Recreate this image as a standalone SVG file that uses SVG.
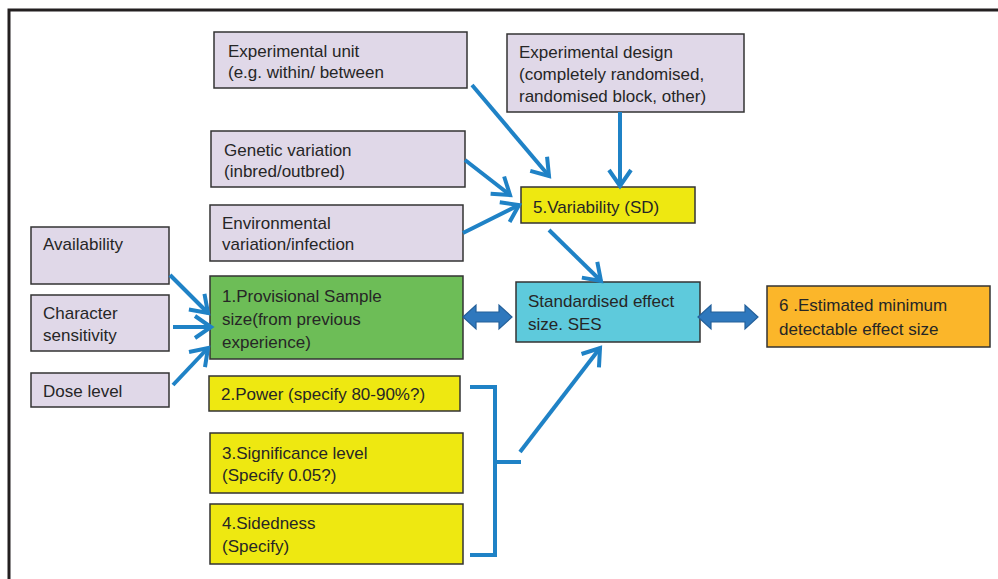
<svg xmlns="http://www.w3.org/2000/svg" width="998" height="579" viewBox="0 0 998 579">
<style>
.box{stroke:#333;stroke-width:1.5}
.lav{fill:#e0d8e8}
.grn{fill:#6dbd57}
.yel{fill:#eee811}
.cyn{fill:#5ecadc}
.org{fill:#fbb62a}
text{font-family:"Liberation Sans",Arial,sans-serif;font-size:17px;fill:#262626}
.con{stroke:#1f82c6;stroke-width:4;fill:none}
.dbl{fill:#2f78bd;stroke:#24609a;stroke-width:1.2}
</style>
<defs>
<marker id="ah" markerUnits="userSpaceOnUse" markerWidth="26" markerHeight="26" viewBox="0 0 26 26" refX="20" refY="13" orient="auto">
<path d="M4,2 L20,13 L4,24" fill="none" stroke="#1f82c6" stroke-width="4" stroke-linejoin="miter"/>
</marker>
</defs>
<rect width="998" height="579" fill="#fff"/>
<path d="M9,579 V10 H998" fill="none" stroke="#231f20" stroke-width="3"/>

<g id="exp-unit"><rect class="box lav" x="214" y="32" width="253" height="56"/><text x="228" y="57">Experimental unit</text><text x="228" y="78">(e.g. within/ between</text></g>
<g id="genetic"><rect class="box lav" x="211" y="131" width="254" height="56"/><text x="224" y="156">Genetic variation</text><text x="224" y="177">(inbred/outbred)</text></g>
<g id="exp-design"><rect class="box lav" x="507" y="34" width="237" height="78"/><text x="519" y="58">Experimental design</text><text x="519" y="80">(completely randomised,</text><text x="519" y="102">randomised block, other)</text></g>
<g id="environmental"><rect class="box lav" x="210" y="205" width="253" height="56"/><text x="222" y="229">Environmental</text><text x="222" y="250">variation/infection</text></g>
<g id="availability"><rect class="box lav" x="31" y="227" width="138" height="57"/><text x="43" y="250">Availability</text></g>
<g id="character"><rect class="box lav" x="31" y="295" width="138" height="56"/><text x="43" y="319">Character</text><text x="43" y="341">sensitivity</text></g>
<g id="dose"><rect class="box lav" x="31" y="373" width="138" height="34"/><text x="43" y="397">Dose level</text></g>
<g id="provisional"><rect class="box grn" x="210" y="276" width="253" height="83"/><text x="222" y="302">1.Provisional Sample</text><text x="222" y="325">size(from previous</text><text x="222" y="348">experience)</text></g>
<g id="power"><rect class="box yel" x="209" y="376" width="251" height="35"/><text x="221" y="400">2.Power (specify 80-90%?)</text></g>
<g id="significance"><rect class="box yel" x="210" y="433" width="253" height="60"/><text x="222" y="459">3.Significance level</text><text x="222" y="481">(Specify 0.05?)</text></g>
<g id="sidedness"><rect class="box yel" x="210" y="504" width="253" height="60"/><text x="222" y="529">4.Sidedness</text><text x="222" y="552">(Specify)</text></g>
<g id="variability"><rect class="box yel" x="521" y="187" width="174" height="36"/><text x="533" y="213">5.Variability (SD)</text></g>
<g id="ses"><rect class="box cyn" x="516" y="282" width="184" height="60"/><text x="528" y="307">Standardised effect</text><text x="528" y="330">size. SES</text></g>
<g id="estimated"><rect class="box org" x="767" y="286" width="223" height="61"/><text x="779" y="311">6 .Estimated minimum</text><text x="779" y="335">detectable effect size</text></g>

<g id="connectors">
<line class="con" x1="472" y1="85" x2="549" y2="176" marker-end="url(#ah)"/>
<line class="con" x1="620" y1="112" x2="620" y2="186" marker-end="url(#ah)"/>
<line class="con" x1="465" y1="160" x2="510" y2="195" marker-end="url(#ah)"/>
<line class="con" x1="463" y1="233" x2="519" y2="205" marker-end="url(#ah)"/>
<line class="con" x1="549" y1="230" x2="601" y2="281" marker-end="url(#ah)"/>
<line class="con" x1="170" y1="275" x2="208" y2="313" marker-end="url(#ah)"/>
<line class="con" x1="173" y1="327" x2="211" y2="327" marker-end="url(#ah)"/>
<line class="con" x1="173" y1="385" x2="208" y2="348" marker-end="url(#ah)"/>
<path class="con" d="M470,387 H495 V555 H470 M495,462 H521"/>
<line class="con" x1="520" y1="452" x2="600" y2="348" marker-end="url(#ah)"/>
<polygon class="dbl" points="463,317 476,305 476,312 499,312 499,305 512,317 499,329 499,322 476,322 476,329"/>
<polygon class="dbl" points="698,317 711,305 711,312 745,312 745,305 758,317 745,329 745,322 711,322 711,329"/>
</g>
</svg>
